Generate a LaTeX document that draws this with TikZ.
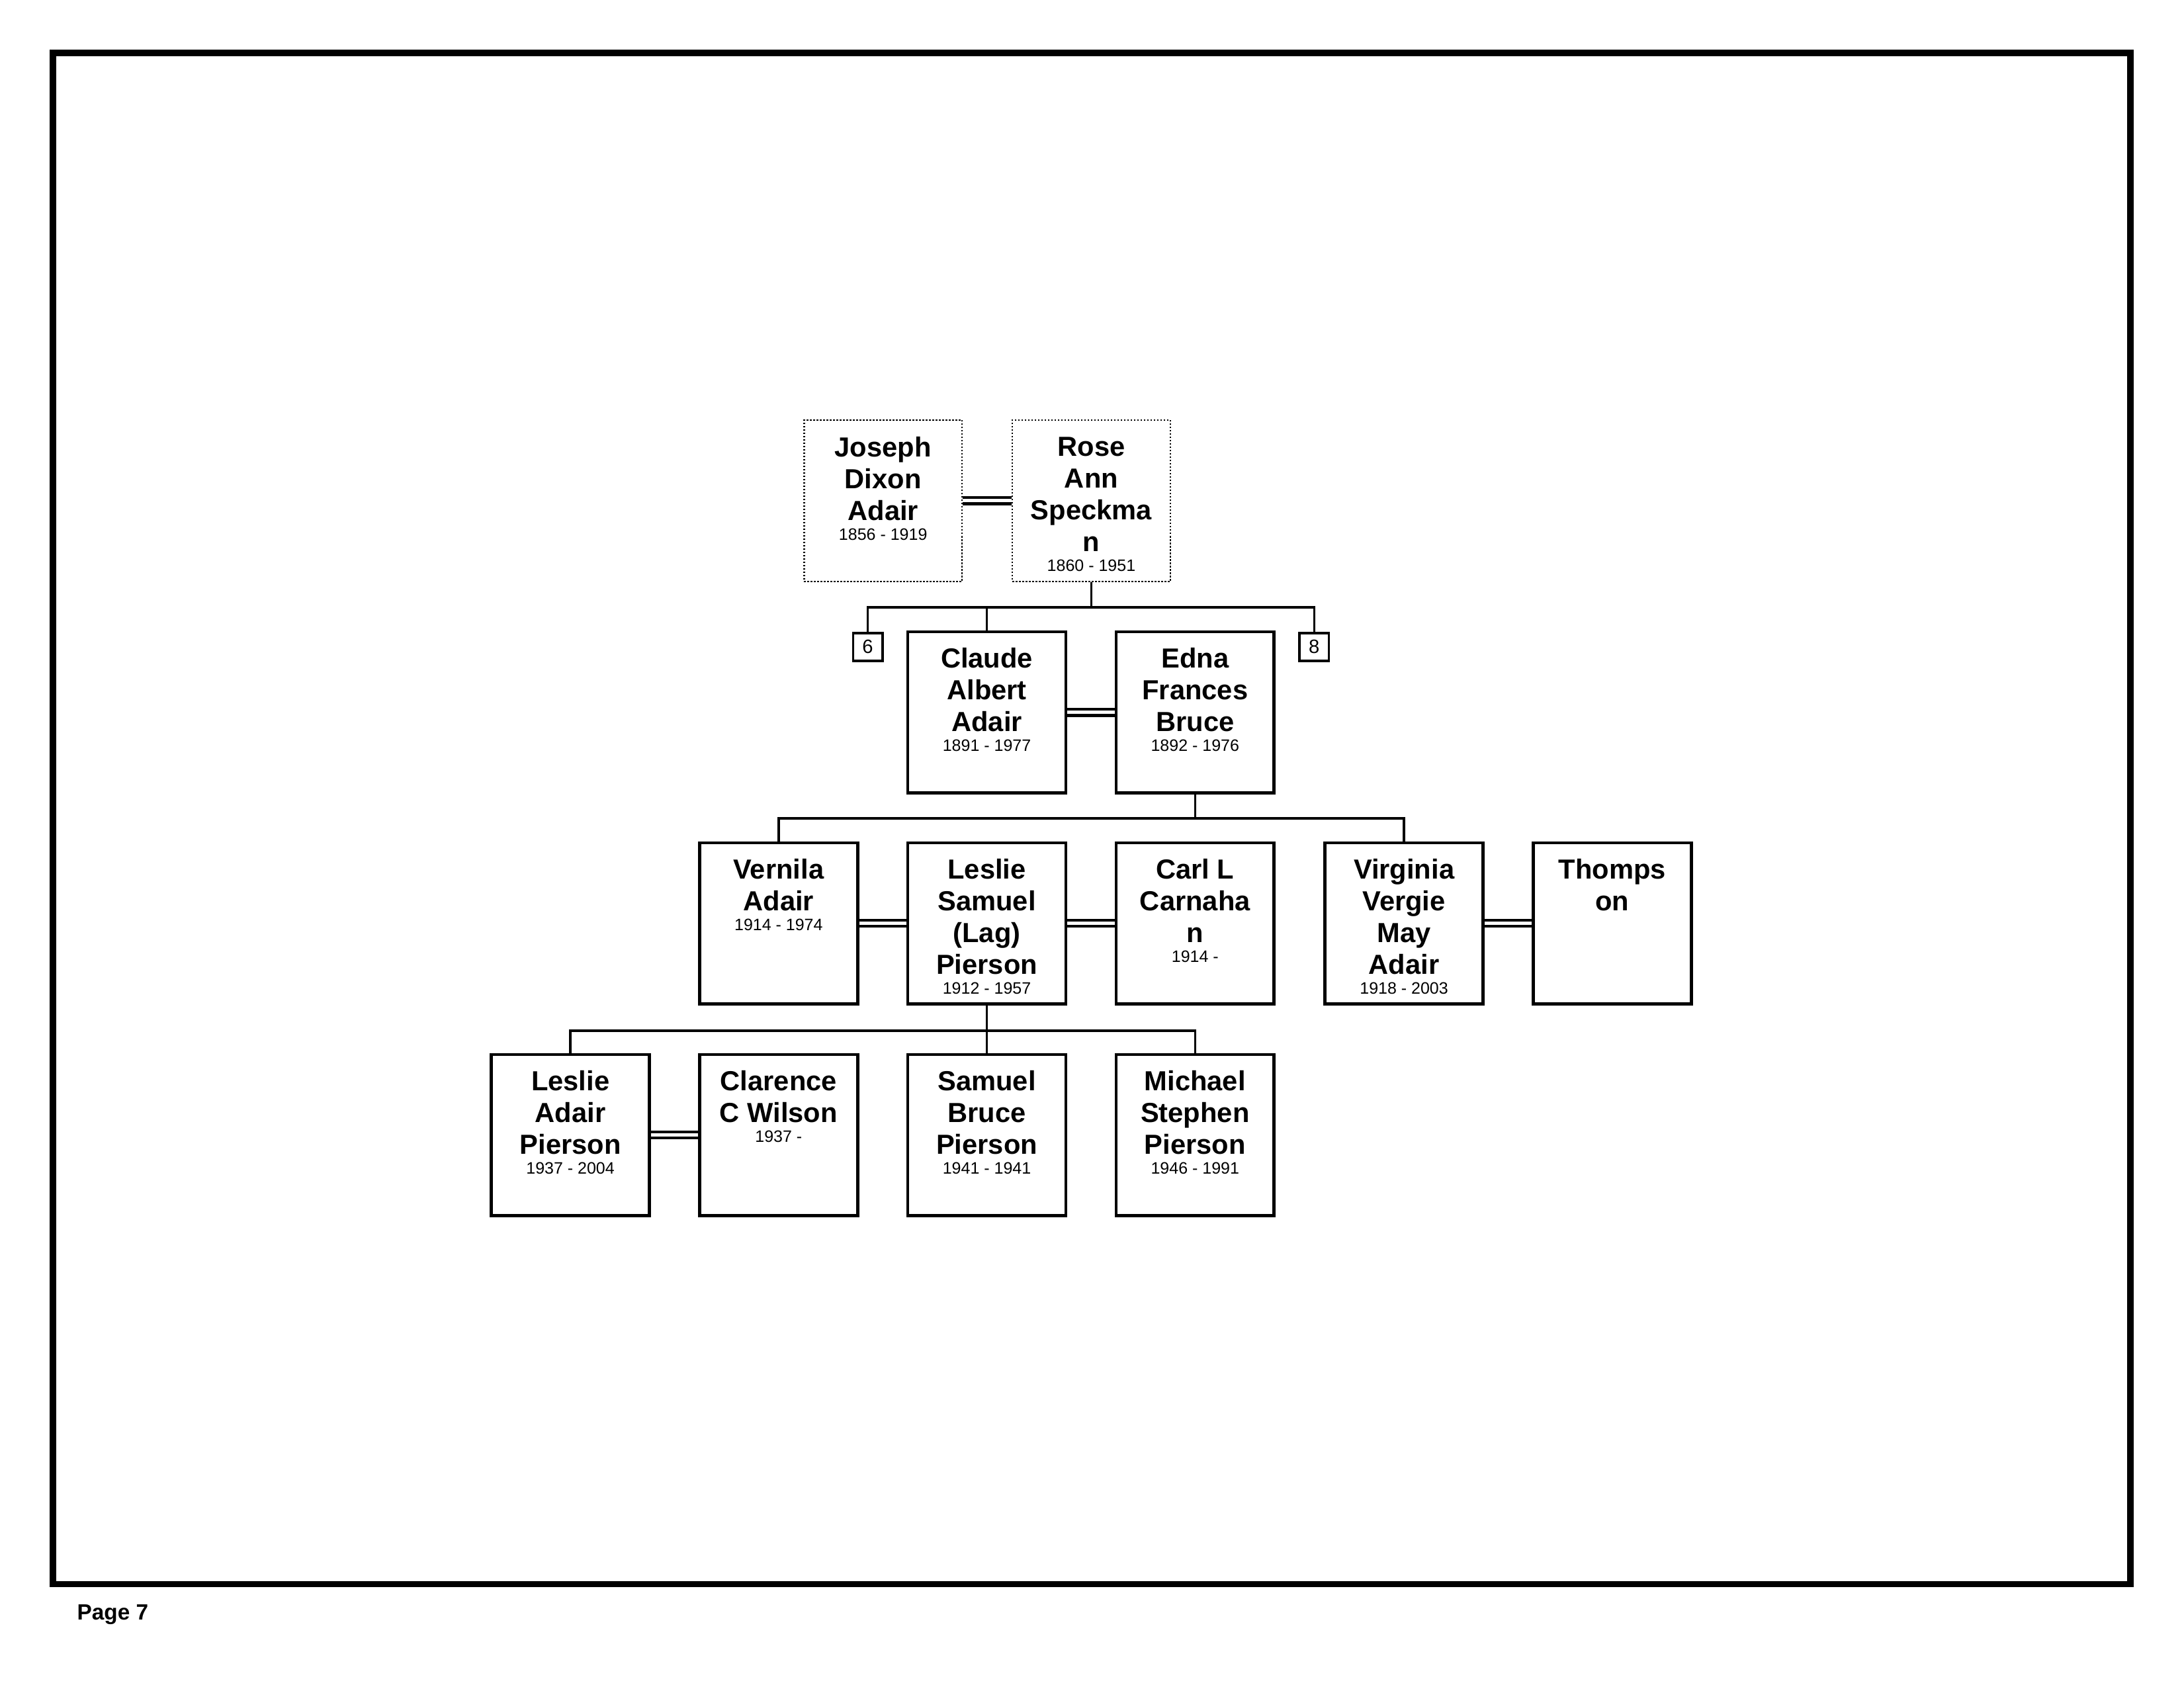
\documentclass[tikz,border=0pt]{standalone}
\usepackage{fontspec}
\setmainfont{Liberation Sans}

\newcommand{\yr}[1]{{\mdseries\fontsize{6}{7}\selectfont #1}}

\tikzset{
  box/.style={draw, line width=1.1pt, minimum width=57.3pt, minimum height=58.5pt, inner sep=0pt},
  ghost/.style={box, line width=0.6pt, dash pattern=on 0.6pt off 0.6pt},
  who/.style={anchor=north, align=center, inner sep=0pt, yshift=-6.3pt, font=\bfseries\fontsize{10}{11.5}\selectfont},
  ref/.style={draw, line width=0.9pt, minimum width=10.6pt, minimum height=10.2pt, inner sep=0pt, font=\fontsize{7}{8}\selectfont},
  tie/.style={line width=0.8pt},
  wed/.style={double, line width=1pt, double distance=1.2pt}
}

\begin{document}
\begin{tikzpicture}[x=0.5051pt, y=-0.5051pt]
  \useasboundingbox (0,0) rectangle (1568,1211);
  \draw[line width=2.2pt] (38,38) rectangle (1529.5,1137.5);
  \node[anchor=base west, inner sep=0pt, font=\bfseries\fontsize{8}{9.6}\selectfont] (page) at (55,1163) {Page 7};

  % grandparents
  \node[ghost] (joseph) at (634,359.5) {};
  \node[ghost] (rose) at (783.5,359.5) {};
  \node[who] (josephN) at (joseph.north) {Joseph\\Dixon\\Adair\\[-4.35pt]\yr{1856 - 1919}};
  \node[who] (roseN) at (rose.north) {Rose\\Ann\\Speckma\\n\\[-4.35pt]\yr{1860 - 1951}};

  % parents
  \node[ref] (six) at (623,464.5) {6};
  \node[ref] (eight) at (943.5,464.5) {8};
  \node[box] (claude) at (708.5,511.5) {};
  \node[box] (edna) at (858,511.5) {};
  \node[who] (claudeN) at (claude.north) {Claude\\Albert\\Adair\\[-4.35pt]\yr{1891 - 1977}};
  \node[who] (ednaN) at (edna.north) {Edna\\Frances\\Bruce\\[-4.35pt]\yr{1892 - 1976}};

  % children
  \node[box] (vernila) at (559,663) {};
  \node[box] (leslie) at (708.5,663) {};
  \node[box] (carl) at (858,663) {};
  \node[box] (virginia) at (1008,663) {};
  \node[box] (thompson) at (1157.5,663) {};
  \node[who] (vernilaN) at (vernila.north) {Vernila\\Adair\\[-4.35pt]\yr{1914 - 1974}};
  \node[who] (leslieN) at (leslie.north) {Leslie\\Samuel\\(Lag)\\Pierson\\[-4.35pt]\yr{1912 - 1957}};
  \node[who] (carlN) at (carl.north) {Carl L\\Carnaha\\n\\[-4.35pt]\yr{1914 -}};
  \node[who] (virginiaN) at (virginia.north) {Virginia\\Vergie\\May\\Adair\\[-4.35pt]\yr{1918 - 2003}};
  \node[who] (thompsonN) at (thompson.north) {Thomps\\on};

  % grandchildren
  \node[box] (leslieA) at (409.5,815) {};
  \node[box] (clarence) at (559,815) {};
  \node[box] (samuel) at (708.5,815) {};
  \node[box] (michael) at (858,815) {};
  \node[who] (leslieAN) at (leslieA.north) {Leslie\\Adair\\Pierson\\[-4.35pt]\yr{1937 - 2004}};
  \node[who] (clarenceN) at (clarence.north) {Clarence\\C Wilson\\[-4.35pt]\yr{1937 -}};
  \node[who] (samuelN) at (samuel.north) {Samuel\\Bruce\\Pierson\\[-4.35pt]\yr{1941 - 1941}};
  \node[who] (michaelN) at (michael.north) {Michael\\Stephen\\Pierson\\[-4.35pt]\yr{1946 - 1991}};

  % marriages
  \draw[wed] (joseph.east) -- (rose.west);
  \draw[wed] (claude.east) -- (edna.west);
  \draw[wed] (vernila.east) -- (leslie.west);
  \draw[wed] (leslie.east) -- (carl.west);
  \draw[wed] (virginia.east) -- (thompson.west);
  \draw[wed] (leslieA.east) -- (clarence.west);

  % descent lines
  \draw[tie] (rose.south) -- ++(0,18) coordinate (bus1);
  \foreach \k in {six,claude,eight}
    \draw[tie] (bus1) -| (\k.north);
  \draw[tie] (edna.south) -- ++(0,17) coordinate (bus2);
  \foreach \k in {vernila,virginia}
    \draw[tie] (bus2) -| (\k.north);
  \draw[tie] (leslie.south) -- ++(0,18) coordinate (bus3);
  \foreach \k in {leslieA,samuel,michael}
    \draw[tie] (bus3) -| (\k.north);
\end{tikzpicture}
\end{document}
